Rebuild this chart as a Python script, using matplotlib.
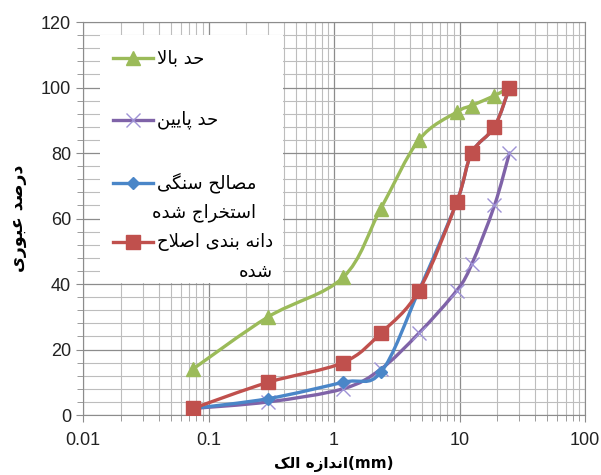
import numpy as np
import matplotlib
matplotlib.use('Agg')
import matplotlib.pyplot as plt
from matplotlib.path import Path
from matplotlib.patches import PathPatch, Rectangle
from matplotlib.ticker import LogLocator, MultipleLocator, NullFormatter

plt.rcParams['font.family'] = ['Liberation Sans', 'DejaVu Sans']

# sieve sizes (mm) and passing percentages
sieve = [0.075, 0.3, 1.18, 2.36, 4.75, 9.5, 12.5, 19, 25]
upper = [14, 30, 42, 63, 84, 92.5, 94.5, 97.5, 100]
lower = [2, 4, 8, 14, 25, 38, 46, 64, 80]
extracted = [2, 5, 10, 13, 38, 65, 80, 88, 100]
modified = [2, 10, 16, 25, 38, 65, 80, 88, 100]

lbl_upper = 'حد بالا'
lbl_lower = 'حد پایین'
lbl_extr = ['مصالح سنگی', 'استخراج شده']
lbl_mod = ['دانه بندی اصلاح', 'شده']
ylab = 'درصد عبوری'
xlab = 'اندازه الک'

# simple arabic/persian shaping (matplotlib has no shaping)
FORMS = {
    'ا': ('\uFE8D', '\uFE8E'), 'ب': ('\uFE8F', '\uFE90', '\uFE91', '\uFE92'),
    'پ': ('\uFB56', '\uFB57', '\uFB58', '\uFB59'), 'ت': ('\uFE95', '\uFE96', '\uFE97', '\uFE98'),
    'ج': ('\uFE9D', '\uFE9E', '\uFE9F', '\uFEA0'), 'ح': ('\uFEA1', '\uFEA2', '\uFEA3', '\uFEA4'),
    'خ': ('\uFEA5', '\uFEA6', '\uFEA7', '\uFEA8'), 'د': ('\uFEA9', '\uFEAA'),
    'ر': ('\uFEAD', '\uFEAE'), 'ز': ('\uFEAF', '\uFEB0'),
    'س': ('\uFEB1', '\uFEB2', '\uFEB3', '\uFEB4'), 'ش': ('\uFEB5', '\uFEB6', '\uFEB7', '\uFEB8'),
    'ص': ('\uFEB9', '\uFEBA', '\uFEBB', '\uFEBC'), 'ع': ('\uFEC9', '\uFECA', '\uFECB', '\uFECC'),
    'ک': ('\uFB8E', '\uFB8F', '\uFB90', '\uFB91'), 'گ': ('\uFB92', '\uFB93', '\uFB94', '\uFB95'),
    'ل': ('\uFEDD', '\uFEDE', '\uFEDF', '\uFEE0'), 'م': ('\uFEE1', '\uFEE2', '\uFEE3', '\uFEE4'),
    'ن': ('\uFEE5', '\uFEE6', '\uFEE7', '\uFEE8'), 'ه': ('\uFEE9', '\uFEEA', '\uFEEB', '\uFEEC'),
    'و': ('\uFEED', '\uFEEE'), 'ی': ('\uFBFC', '\uFBFD', '\uFBFE', '\uFBFF'),
}
DUAL = [k for k, v in FORMS.items() if len(v) == 4]


def fa(s):
    out = []
    i = 0
    n = len(s)
    while i < n:
        ch = s[i]
        if ch not in FORMS:
            out.append(ch)
            i += 1
            continue
        prev = i > 0 and s[i - 1] in DUAL
        if ch == 'ل' and i + 1 < n and s[i + 1] == 'ا':
            out.append('\uFEFC' if prev else '\uFEFB')
            i += 2
            continue
        nxt = ch in DUAL and i + 1 < n and s[i + 1] in FORMS
        f = FORMS[ch]
        if prev and nxt:
            out.append(f[3])
        elif prev:
            out.append(f[1])
        elif nxt:
            out.append(f[2])
        else:
            out.append(f[0])
        i += 1
    return ''.join(out)[::-1]


def smooth(ax, xs, ys, color, z):
    lx = np.log10(xs)
    y = np.asarray(ys, float)
    verts = [(lx[0], y[0])]
    codes = [Path.MOVETO]
    m = len(lx)
    for i in range(m - 1):
        a = max(i - 1, 0)
        b = min(i + 2, m - 1)
        c1 = (lx[i] + (lx[i + 1] - lx[a]) / 6, y[i] + (y[i + 1] - y[a]) / 6)
        c2 = (lx[i + 1] - (lx[b] - lx[i]) / 6, y[i + 1] - (y[b] - y[i]) / 6)
        verts += [c1, c2, (lx[i + 1], y[i + 1])]
        codes += [Path.CURVE4] * 3
    verts = [(10 ** p, q) for p, q in verts]
    ax.add_patch(PathPatch(Path(verts, codes), fill=False, edgecolor=color,
                           lw=2.4, zorder=z, capstyle='round', joinstyle='round'))


green = '#9BBB59'
purple = '#7F63A8'
blue = '#4A86C8'
red = '#C0504D'

fig = plt.figure(figsize=(6.01, 4.75), dpi=100)
ax = fig.add_axes([83 / 601, 1 - 415 / 475, 502 / 601, 393 / 475])

ax.set_xscale('log')
ax.set_xlim(0.01, 100)
ax.set_ylim(0, 120)

smooth(ax, sieve, upper, green, 3)
ax.plot(sieve, upper, ls='none', marker='^', ms=9.5, color=green, zorder=3.1)
smooth(ax, sieve, lower, purple, 4)
ax.plot(sieve, lower, ls='none', marker='x', ms=10, mew=1.0, color='#9E92D6', zorder=4.1)
smooth(ax, sieve, extracted, blue, 5)
ax.plot(sieve, extracted, ls='none', marker='D', ms=6.5, color=blue, zorder=5.1)
smooth(ax, sieve, modified, red, 6)
ax.plot(sieve, modified, ls='none', marker='s', ms=9.5, color=red, zorder=6.1)

# axes and grid
ax.xaxis.set_minor_locator(LogLocator(base=10, subs=np.arange(2, 10), numticks=10))
ax.xaxis.set_minor_formatter(NullFormatter())
ax.set_xticks([0.01, 0.1, 1, 10, 100])
ax.set_xticklabels(['0.01', '0.1', '1', '10', '100'])
ax.yaxis.set_major_locator(MultipleLocator(20))
ax.yaxis.set_minor_locator(MultipleLocator(4))
ax.set_axisbelow(True)
ax.grid(which='major', color='#8c8c8c', lw=0.9)
ax.grid(which='minor', color='#bdbdbd', lw=0.8)
for s in ax.spines.values():
    s.set_color('#8c8c8c')
ax.tick_params(which='both', colors='#8c8c8c', labelcolor='#222222', labelsize=13)
ax.tick_params(which='major', length=5)
ax.tick_params(which='minor', length=4)
ax.tick_params(axis='x', pad=7)

ax.set_ylabel(fa(ylab), fontsize=12.5, fontweight='bold', labelpad=10,
              family=['DejaVu Sans'])
ax.set_xlabel(fa(xlab) + '(mm)', fontsize=11, fontweight='bold', labelpad=5,
              family=['DejaVu Sans'])

# legend box (Excel style, drawn by hand so markers sit on first line)
ax.add_patch(Rectangle((17 / 502, 132 / 393), 183 / 502, 248 / 393,
                       transform=ax.transAxes, facecolor='white', edgecolor='none', zorder=2))

entries = [
    (green, '^', 9.5, [lbl_upper], 58),
    (purple, 'x', 10, [lbl_lower], 120),
    (blue, 'D', 6.5, lbl_extr, 183),
    (red, 's', 9.5, lbl_mod, 242),
]
fig.canvas.draw()
r = fig.canvas.get_renderer()
for col, mk, ms, lines, py in entries:
    yy = (415 - py) / 393
    ax.plot([30 / 502, 70 / 502], [yy, yy], color=col, lw=2.4, transform=ax.transAxes,
            zorder=7, clip_on=False)
    mcol = '#9E92D6' if mk == 'x' else col
    ax.plot([50 / 502], [yy], marker=mk, ms=ms, color=mcol, mew=1.0,
            transform=ax.transAxes, zorder=7.1, clip_on=False)
    t = ax.text(74 / 502, yy, fa(lines[0]), transform=ax.transAxes, ha='left',
                va='center', fontsize=13, family=['DejaVu Sans'], zorder=8)
    if len(lines) > 1:
        bb = t.get_window_extent(r).transformed(ax.transAxes.inverted())
        ax.text(bb.x1, yy - 29.5 / 393, fa(lines[1]), transform=ax.transAxes, ha='right',
                va='center', fontsize=13, family=['DejaVu Sans'], zorder=8)

fig.savefig('out.png', dpi=100)
